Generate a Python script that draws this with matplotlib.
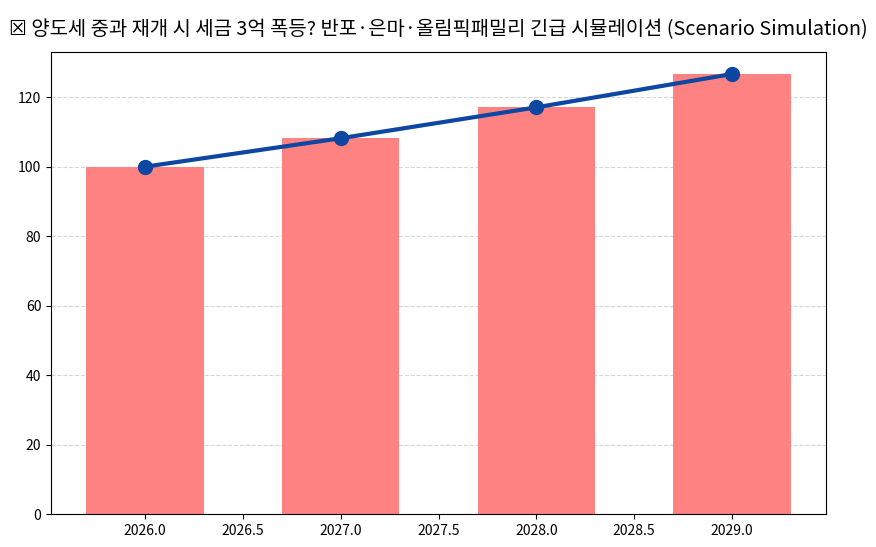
import numpy as np
import matplotlib
matplotlib.use('Agg')
import matplotlib.pyplot as plt

plt.rcParams['font.family'] = ['Noto Sans CJK KR', 'DejaVu Sans']

# scenario data
years = [2026, 2027, 2028, 2029]
tax_index = [100, 108.2, 117.1, 126.7]

fig = plt.figure(figsize=(8.76, 5.47), dpi=100)
ax = fig.add_axes([51 / 876, 1 - 514 / 547, 775 / 876, 462 / 547])

ax.bar(years, tax_index, width=0.6, color='#FF8282')
ax.plot(years, tax_index, color='#0D47A1', linewidth=3, marker='o', markersize=10)

ax.grid(axis='y', linestyle='--', color='#cccccc', alpha=0.8)
ax.set_axisbelow(True)
ax.tick_params(labelsize=10)
ax.set_title('\u2612 양도세 중과 재개 시 세금 3억 폭등? 반포·은마·올림픽패밀리 긴급 시뮬레이션 (Scenario Simulation)',
             fontsize=14.3, pad=12)

fig.savefig('out.png', dpi=100)
